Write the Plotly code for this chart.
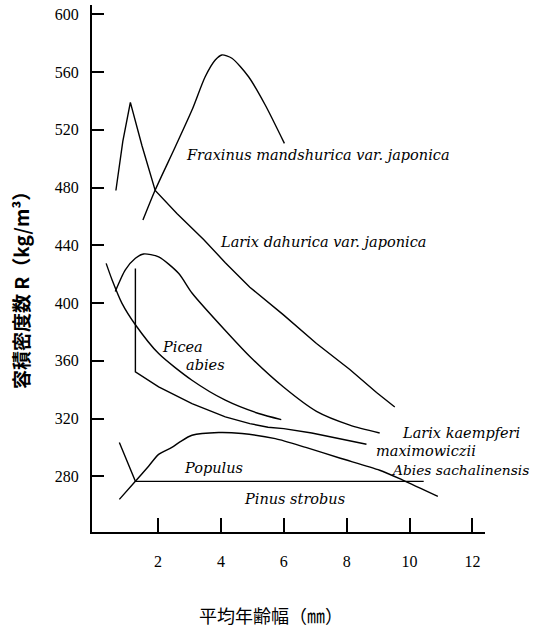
import plotly.graph_objects as go

# ---- data ----
fraxinus_x = [1.52, 1.91, 2.55, 3.08, 3.50, 3.82, 4.03, 4.35, 4.88, 5.41, 6.02]
fraxinus_y = [457.5, 478.3, 508.3, 533.7, 556.8, 568.4, 571.9, 569.6, 556.8, 537.2, 510.6]

larix_dah_x = [0.66, 0.88, 1.12, 1.49, 1.91, 2.6, 3.45, 4.14, 4.92, 5.98, 7.04, 8.10, 8.95, 9.53]
larix_dah_y = [478, 512, 539, 509, 478, 462, 444, 428, 411, 392, 372, 354, 338, 328]

larix_kae_x = [0.64, 0.96, 1.28, 1.54, 2.02, 2.66, 3.08, 4.14, 4.92, 5.98, 7.04, 8.10, 9.05]
larix_kae_y = [408, 423, 431, 434, 432, 420.5, 407, 381, 363, 342, 325, 315.5, 310]

picea_x = [0.35, 0.54, 0.85, 1.28, 2.02, 3.08, 4.14, 5.2, 5.92]
picea_y = [427.5, 416, 400, 385, 365, 346.5, 332.7, 323.5, 319.3]

maxim_x = [1.28, 1.28, 2.02, 3.08, 4.14, 4.92, 5.5, 6.0, 6.89, 7.8, 8.63]
maxim_y = [424, 352.3, 342, 330.4, 321.1, 316.5, 314, 313, 310, 306, 302.2]

abies_x = [0.77, 1.28, 1.7, 2.02, 2.44, 2.71, 3.08, 3.93, 4.67, 5.73, 6.7, 7.8, 9.05, 9.8, 10.9]
abies_y = [264, 276.5, 287, 295.2, 300, 304, 308.4, 310.3, 309.6, 306.1, 300, 292.5, 284.2, 277.2, 266.1]

pinus_x = [0.77, 1.28, 10.45]
pinus_y = [303.4, 276.5, 276.5]

x_ticks = [2, 4, 6, 8, 10, 12]
y_ticks = [280, 320, 360, 400, 440, 480, 520, 560, 600]

labels = ["Fraxinus mandshurica var. japonica", "Larix dahurica var. japonica",
          "Picea", "abies", "Larix kaempferi", "maximowiczii",
          "Abies sachalinensis", "Populus", "Pinus strobus"]
label_x = [2.83, 3.91, 2.06, 2.82, 9.69, 8.86, 9.35, 2.76, 4.67]
label_y = [502.5, 442.2, 369.4, 357.0, 309.8, 297.3, 284.2, 285.5, 264.0]
label_size = [14.5, 14.5, 14.5, 14.5, 14.5, 14.5, 13.8, 14.5, 14.5]

y_title = "容積密度数 R（kg/m³）"
x_title = "平均年齢幅（㎜）"

# ---- figure ----
W, H = 534, 631
L, R, T, B = 92, 49, 5, 99

fig = go.Figure()
series = [
    (fraxinus_x, fraxinus_y, "spline"),
    (larix_dah_x, larix_dah_y, "linear"),
    (larix_kae_x, larix_kae_y, "spline"),
    (picea_x, picea_y, "spline"),
    (maxim_x, maxim_y, "linear"),
    (abies_x, abies_y, "spline"),
    (pinus_x, pinus_y, "linear"),
]
for xs, ys, shape in series:
    fig.add_trace(go.Scatter(
        x=xs, y=ys, mode="lines",
        line=dict(color="black", width=1.4, shape=shape, smoothing=0.7),
        showlegend=False, hoverinfo="skip"))

for t, lx, ly, fs in zip(labels, label_x, label_y, label_size):
    fig.add_annotation(x=lx, y=ly, xref="x", yref="y", text=t, showarrow=False,
                       xanchor="left", yanchor="middle",
                       font=dict(family="DejaVu Serif", size=fs, color="black", style="italic"))

def px_to_paper(px, py):
    return (px - L) / (W - L - R), (H - B - py) / (H - T - B)

yt_x, yt_y = px_to_paper(20, 286)
fig.add_annotation(x=yt_x, y=yt_y, xref="paper", yref="paper", text=y_title,
                   showarrow=False, textangle=-90, xanchor="center", yanchor="middle",
                   font=dict(family="Noto Sans CJK JP", size=19, color="black", weight="bold"))
xt_x, xt_y = px_to_paper(271, 615)
fig.add_annotation(x=xt_x, y=xt_y, xref="paper", yref="paper", text=x_title,
                   showarrow=False, xanchor="center", yanchor="middle",
                   font=dict(family="Noto Sans CJK JP", size=18, color="black"))

tick_font = dict(family="Liberation Serif", size=16, color="black")
fig.update_layout(
    width=W, height=H,
    margin=dict(l=L, r=R, t=T, b=B),
    paper_bgcolor="white", plot_bgcolor="white",
    xaxis=dict(range=[-0.1, 12.4], tickvals=x_ticks, ticktext=[str(v) for v in x_ticks],
               ticks="inside", ticklen=14, tickwidth=2, tickcolor="black",
               showline=True, linewidth=2, linecolor="black",
               showgrid=False, zeroline=False, tickfont=tick_font,
               ticklabelstandoff=14),
    yaxis=dict(range=[241.4, 606.5], tickvals=y_ticks, ticktext=[str(v) for v in y_ticks],
               ticks="inside", ticklen=12, tickwidth=2, tickcolor="black",
               showline=True, linewidth=2, linecolor="black",
               showgrid=False, zeroline=False, tickfont=tick_font,
               ticklabelstandoff=8),
)

fig.write_html("out.html", config={"displayModeBar": False},
               post_script="document.body.style.margin='0px';document.body.style.overflow='hidden';")
